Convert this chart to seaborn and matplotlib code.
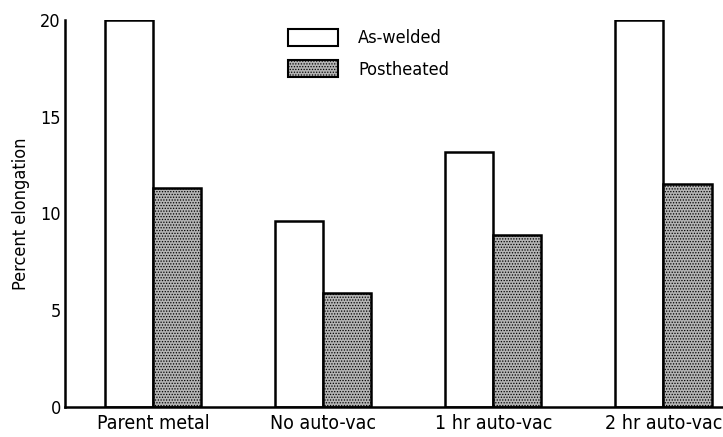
import numpy as np
import pandas as pd
import matplotlib
matplotlib.use("Agg")
import matplotlib.pyplot as plt
import seaborn as sns
from matplotlib.patches import Patch

# ---------------- data
conditions = ["Parent metal", "No auto-vac", "1 hr auto-vac", "2 hr auto-vac"]
as_welded = [20.0, 9.6, 13.2, 20.0]
postheated = [11.3, 5.9, 8.9, 11.5]
series = ["As-welded", "Postheated"]
y_ticks = [0, 5, 10, 15, 20]

df = pd.DataFrame({
    "condition": conditions * 2,
    "elong": as_welded + postheated,
    "treatment": [series[0]] * 4 + [series[1]] * 4,
})

sns.set_style("white")
plt.rcParams["font.family"] = ["DejaVu Sans"]
plt.rcParams["font.stretch"] = "condensed"
plt.rcParams["text.color"] = "black"
plt.rcParams["axes.labelcolor"] = "black"
plt.rcParams["xtick.color"] = "black"
plt.rcParams["ytick.color"] = "black"
plt.rcParams["hatch.color"] = "#303030"
plt.rcParams["hatch.linewidth"] = 0.6

fig = plt.figure(figsize=(7.23, 4.37), dpi=100)
ax = fig.add_axes([65 / 723, 30 / 437, 1 - 65 / 723, 387 / 437])

sns.barplot(data=df, x="condition", y="elong", hue="treatment",
            hue_order=series, order=conditions, width=0.565,
            palette=["white", "#b4b4b4"], edgecolor="black",
            linewidth=1.8, saturation=1, legend=False, ax=ax)

# stipple look for postheated bars
for bar in ax.containers[1]:
    bar.set_hatch("......")

ax.set_xlim(-0.517, 3.35)
ax.set_ylim(0, 20)
ax.set_yticks(y_ticks)
ax.set_yticklabels([str(t) for t in y_ticks], fontsize=13)
ax.tick_params(axis="y", direction="in", length=11, width=1.8, pad=3)
ax.tick_params(axis="x", length=0, labelsize=14, pad=5)
ax.set_xlabel("")
ax.set_ylabel("Percent elongation", fontsize=13, labelpad=7)

sns.despine(ax=ax, top=True, right=True)
for side in ["left", "bottom"]:
    ax.spines[side].set_linewidth(1.8)
    ax.spines[side].set_color("black")

handles = [Patch(facecolor="white", edgecolor="black", linewidth=1.5),
           Patch(facecolor="#b4b4b4", edgecolor="black", linewidth=1.5, hatch="......")]
ax.legend(handles, series, loc="upper left", bbox_to_anchor=(0.314, 1.02),
          frameon=False, fontsize=13, handlelength=2.8, handleheight=1.1,
          labelspacing=0.7, handletextpad=1.1)

fig.savefig("out.png", dpi=100)
